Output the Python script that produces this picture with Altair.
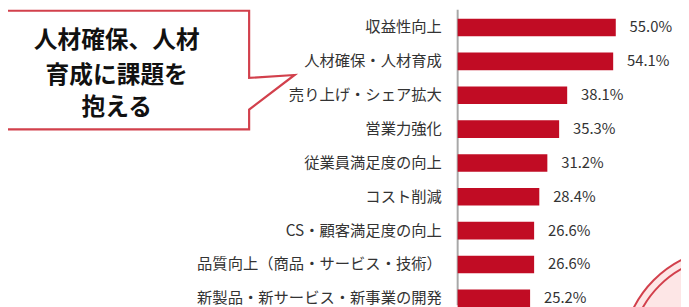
import altair as alt
import pandas as pd

categories = [
    "収益性向上",
    "人材確保・人材育成",
    "売り上げ・シェア拡大",
    "営業力強化",
    "従業員満足度の向上",
    "コスト削減",
    "CS・顧客満足度の向上",
    "品質向上（商品・サービス・技術）",
    "新製品・新サービス・新事業の開発",
]
values = [55.0, 54.1, 38.1, 35.3, 31.2, 28.4, 26.6, 26.6, 25.2]
value_labels = ["55.0%", "54.1%", "38.1%", "35.3%", "31.2%", "28.4%", "26.6%", "26.6%", "25.2%"]
callout_lines = ["人材確保、人材", "育成に課題を", "抱える"]

FONT = "Noto Sans CJK JP"
W, H = 681, 299

df = pd.DataFrame({
    "cat": categories,
    "val": values,
    "lab": value_labels,
    "idx": list(range(len(categories))),
})
df["y0"] = df["idx"] - 0.26
df["y1"] = df["idx"] + 0.26
df["zero"] = 0.0

xs = alt.Scale(domain=[-156.41, 77.69], nice=False, zero=False)
ys = alt.Scale(domain=[-0.5255, 8.2044], nice=False, zero=False, reverse=True)

base = alt.Chart(df)

bars = base.mark_rect(color="#C10C24").encode(
    x=alt.X("zero:Q", scale=xs, axis=None),
    x2="val:Q",
    y=alt.Y("y0:Q", scale=ys, axis=None),
    y2="y1:Q",
)

cat_text = base.mark_text(
    align="right", baseline="middle", dx=-16, font=FONT, fontSize=15.5, color="#333333"
).encode(
    x=alt.X("zero:Q", scale=xs, axis=None),
    y=alt.Y("idx:Q", scale=ys, axis=None),
    text="cat:N",
)

val_text = base.mark_text(
    align="left", baseline="middle", dx=14, font=FONT, fontSize=15, color="#333333"
).encode(
    x=alt.X("val:Q", scale=xs, axis=None),
    y=alt.Y("idx:Q", scale=ys, axis=None),
    text="lab:N",
)

axis_line = alt.Chart(pd.DataFrame({"z": [0.0]})).mark_rule(
    color="#A8A8A8", strokeWidth=2
).encode(
    x=alt.X("z:Q", scale=xs, axis=None),
    y=alt.value(0),
    y2=alt.value(H),
)

# decorative circles at bottom right
circ = pd.DataFrame({"o": [0, 1], "s": [49284, 42436]})
circles = alt.Chart(circ).mark_point(
    shape="circle", filled=False, fill="#FDE6E6", fillOpacity=1, stroke="#D2404C", strokeWidth=2
).encode(
    x=alt.value(732),
    y=alt.value(352),
    size=alt.Size("s:Q", scale=None, legend=None),
    order="o:Q",
)

# callout outline
box_pts = pd.DataFrame({
    "px": [-10, 244, 244, 290, 244, 244, -10, -10],
    "py": [1, 1, 69, 66, 101, 121, 121, 1],
    "o": list(range(8)),
})
callout = alt.Chart(box_pts).mark_line(color="#D2404C", strokeWidth=2.2, strokeJoin="miter").encode(
    x=alt.X("px:Q", scale=None),
    y=alt.Y("py:Q", scale=None),
    order="o:Q",
)

callout_df = pd.DataFrame({"t": callout_lines, "py": [32, 67, 100]})
callout_text = alt.Chart(callout_df).mark_text(
    align="center", baseline="middle", font=FONT, fontSize=24, fontWeight="bold", color="#111111"
).encode(
    x=alt.value(110),
    y=alt.Y("py:Q", scale=None),
    text="t:N",
)

chart = alt.layer(
    circles, axis_line, bars, cat_text, val_text, callout, callout_text
).properties(
    width=W, height=H, padding=0, autosize=alt.AutoSizeParams(type="none")
).configure_view(stroke=None)

chart.save("out.html", embed_options={"renderer": "svg", "actions": False})
